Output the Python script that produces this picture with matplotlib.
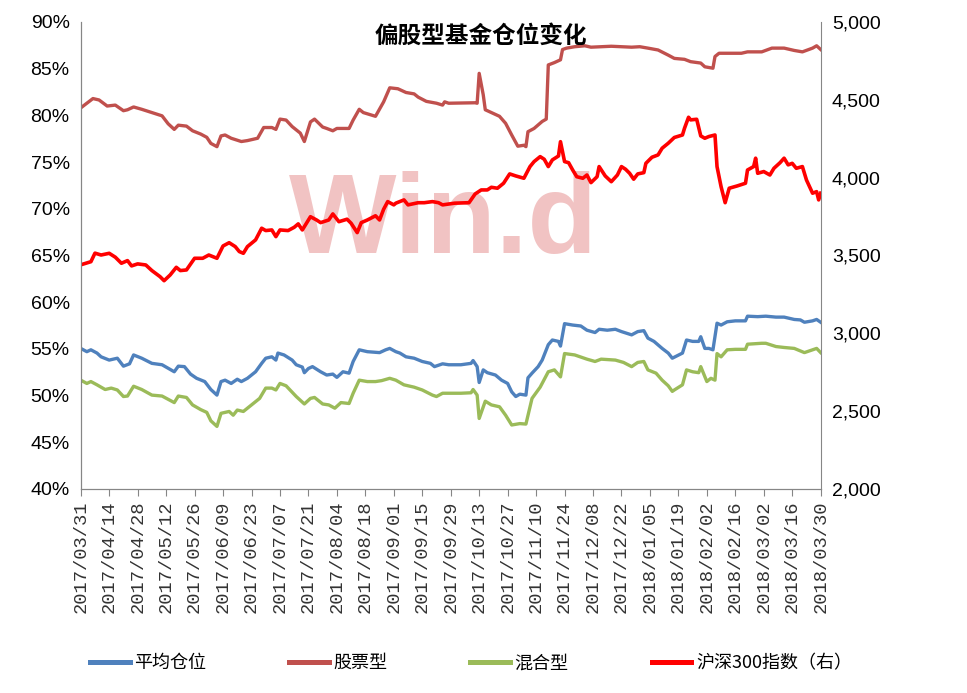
import matplotlib
matplotlib.use('Agg')
import matplotlib.pyplot as plt
import matplotlib.ticker as mticker
import pandas as pd

## x values are calendar days counted from the first date
start = pd.Timestamp('2017-03-31')
end = pd.Timestamp('2018-03-30')

## 股票型 (%)
stock_days = [0, 6, 9, 13, 17, 21, 23, 26, 30, 35, 40, 43, 46, 48, 52, 55, 59, 62, 64, 67,
              69, 71, 74, 79, 82, 87, 90, 94, 96, 98, 101, 104, 106, 108, 110, 113, 115, 119, 121, 124,
              126, 132, 134, 137, 139, 145, 149, 152, 156, 160, 164, 166, 170, 175, 178, 179, 181, 194, 195, 196,
              198, 199, 202, 206, 209, 212, 215, 218, 219, 220, 223, 227, 229, 230, 233, 236, 237, 239, 243, 248,
              251, 256, 261, 266, 271, 275, 279, 284, 289, 292, 297, 300, 305, 307, 311, 312, 314, 319, 325, 328,
              335, 340, 346, 351, 355, 360, 362, 364]
stock_pos = [80.8, 81.8, 81.65, 81.0, 81.1, 80.5, 80.6, 80.9, 80.65, 80.3, 79.95, 79.1, 78.5, 78.95, 78.85, 78.35, 78.0, 77.65, 77.0, 76.65,
             77.8, 77.9, 77.55, 77.2, 77.3, 77.55, 78.7, 78.7, 78.5, 79.6, 79.5, 78.8, 78.45, 78.1, 77.2, 79.3, 79.6, 78.75, 78.6, 78.35,
             78.6, 78.6, 79.5, 80.65, 80.3, 79.9, 81.45, 82.95, 82.85, 82.45, 82.3, 81.95, 81.5, 81.3, 81.1, 81.45, 81.3, 81.35, 81.3, 84.5,
             82.2, 80.6, 80.3, 79.9, 79.15, 77.9, 76.7, 76.8, 76.65, 78.25, 78.6, 79.35, 79.6, 85.4, 85.65, 85.95, 87.05, 87.2, 87.35, 87.45,
             87.3, 87.35, 87.4, 87.35, 87.3, 87.35, 87.2, 87.0, 86.45, 86.1, 86.0, 85.75, 85.6, 85.2, 85.05, 86.3, 86.65, 86.65, 86.65, 86.8,
             86.8, 87.2, 87.2, 86.95, 86.8, 87.2, 87.45, 87.05]

## 平均仓位 (%)
avg_days = [0, 3, 5, 8, 10, 14, 18, 21, 24, 26, 30, 35, 40, 46, 48, 51, 54, 57, 61, 64,
            67, 69, 71, 74, 77, 79, 82, 86, 89, 91, 94, 96, 97, 100, 104, 106, 109, 110, 112, 114,
            118, 121, 124, 126, 129, 132, 134, 137, 141, 147, 150, 152, 155, 157, 160, 164, 168, 172, 174, 178,
            181, 187, 192, 193, 195, 196, 198, 200, 204, 207, 210, 212, 214, 216, 219, 220, 222, 225, 227, 230,
            232, 235, 236, 238, 242, 246, 249, 253, 255, 259, 263, 266, 271, 274, 277, 279, 282, 286, 289, 291,
            296, 298, 301, 304, 305, 307, 309, 311, 313, 315, 318, 322, 327, 328, 333, 337, 342, 346, 351, 354,
            356, 360, 362, 364]
avg_pos = [55.05, 54.7, 54.9, 54.55, 54.15, 53.8, 54.0, 53.15, 53.4, 54.35, 54.0, 53.45, 53.3, 52.55, 53.15, 53.1, 52.3, 51.85, 51.5, 50.65,
           50.05, 51.5, 51.65, 51.3, 51.75, 51.5, 51.85, 52.55, 53.45, 54.0, 54.15, 53.8, 54.55, 54.35, 53.8, 53.3, 53.05, 52.45, 52.9, 53.1,
           52.55, 52.2, 52.3, 51.95, 52.55, 52.4, 53.65, 54.9, 54.7, 54.6, 54.9, 55.05, 54.7, 54.55, 54.15, 54.0, 53.65, 53.45, 53.1, 53.4,
           53.3, 53.3, 53.45, 53.75, 53.1, 51.4, 52.75, 52.45, 52.2, 51.65, 51.3, 50.4, 49.9, 50.15, 50.05, 51.9, 52.4, 53.1, 53.8, 55.45,
           55.95, 55.8, 55.3, 57.7, 57.55, 57.45, 57.0, 56.75, 57.1, 57.0, 57.1, 56.85, 56.5, 56.85, 56.95, 56.15, 55.8, 55.05, 54.55, 54.0,
           54.55, 55.95, 55.8, 55.8, 56.3, 55.05, 55.05, 54.9, 57.75, 57.55, 57.9, 58.0, 58.0, 58.5, 58.45, 58.5, 58.4, 58.4, 58.15, 58.1,
           57.85, 58.0, 58.15, 57.85]

## 混合型 (%)
mixed_days = [0, 3, 5, 8, 12, 15, 18, 21, 23, 26, 30, 35, 40, 46, 48, 52, 55, 59, 62, 64,
              67, 69, 73, 75, 77, 80, 84, 88, 91, 94, 96, 98, 101, 106, 110, 113, 115, 119, 122, 125,
              128, 132, 134, 137, 141, 145, 148, 152, 155, 159, 164, 168, 173, 175, 178, 187, 192, 193, 195, 196,
              199, 202, 206, 209, 212, 216, 219, 222, 226, 230, 233, 236, 238, 243, 249, 253, 256, 263, 267, 271,
              274, 277, 279, 283, 286, 289, 291, 292, 296, 298, 301, 304, 305, 308, 310, 312, 313, 315, 318, 322,
              327, 328, 335, 337, 342, 346, 351, 356, 360, 362, 364]
mixed_pos = [51.65, 51.3, 51.5, 51.15, 50.65, 50.8, 50.6, 49.9, 49.95, 51.0, 50.65, 50.05, 49.95, 49.25, 49.95, 49.8, 49.0, 48.5, 48.2, 47.3,
             46.7, 48.1, 48.3, 47.9, 48.45, 48.3, 49.0, 49.7, 50.8, 50.8, 50.6, 51.3, 51.05, 49.9, 49.1, 49.7, 49.8, 49.1, 49.0, 48.65,
             49.25, 49.15, 50.25, 51.65, 51.5, 51.5, 51.6, 51.85, 51.65, 51.15, 50.9, 50.6, 50.05, 49.9, 50.25, 50.25, 50.3, 50.65, 50.05, 47.55,
             49.4, 49.0, 48.8, 47.9, 46.85, 47.0, 46.95, 49.7, 50.9, 52.55, 52.75, 52.0, 54.5, 54.35, 53.9, 53.65, 53.9, 53.8, 53.55, 53.1,
             53.55, 53.65, 52.75, 52.4, 51.65, 51.05, 50.45, 50.6, 51.15, 52.75, 52.55, 52.45, 53.1, 51.5, 51.85, 51.65, 54.5, 54.15, 54.9, 54.95,
             54.95, 55.5, 55.6, 55.6, 55.25, 55.15, 55.05, 54.6, 54.9, 55.05, 54.6]

## 沪深300指数 (right axis)
hs300_days = [0, 5, 7, 10, 14, 17, 20, 23, 25, 28, 32, 35, 39, 41, 44, 47, 49, 52, 56, 60,
              63, 67, 70, 73, 76, 78, 80, 82, 86, 89, 91, 94, 96, 98, 102, 105, 107, 109, 113, 116,
              118, 122, 124, 127, 131, 133, 136, 138, 141, 145, 147, 149, 151, 154, 155, 159, 161, 166, 169, 173,
              176, 178, 184, 191, 194, 197, 200, 202, 205, 208, 211, 214, 218, 221, 223, 226, 228, 230, 232, 235,
              236, 238, 240, 242, 244, 247, 249, 251, 254, 255, 258, 261, 264, 266, 268, 270, 272, 274, 277, 278,
              281, 284, 286, 289, 292, 296, 297, 299, 300, 303, 305, 307, 309, 312, 313, 315, 317, 319, 323, 327,
              328, 331, 332, 333, 336, 339, 341, 344, 346, 348, 350, 352, 355, 357, 360, 362, 363, 364]
hs300 = [3440, 3460, 3515, 3503, 3514, 3489, 3450, 3467, 3433, 3446, 3439, 3403, 3364, 3338, 3375, 3424, 3403, 3407, 3482, 3482,
         3503, 3482, 3561, 3582, 3557, 3525, 3514, 3557, 3600, 3675, 3660, 3664, 3621, 3664, 3660, 3681, 3703, 3664, 3749, 3728,
         3711, 3728, 3767, 3717, 3733, 3707, 3647, 3711, 3728, 3755, 3728, 3797, 3846, 3825, 3836, 3857, 3825, 3839, 3839, 3846,
         3839, 3825, 3836, 3839, 3895, 3921, 3921, 3938, 3932, 3964, 4024, 4011, 3996, 4071, 4103, 4135, 4118, 4071, 4114, 4139,
         4231, 4103, 4096, 4049, 4006, 3996, 4017, 3968, 4006, 4071, 4011, 3974, 4017, 4071, 4054, 4028, 3990, 4024, 4032, 4092,
         4131, 4146, 4189, 4221, 4258, 4274, 4317, 4388, 4371, 4375, 4268, 4253, 4264, 4274, 4071, 3942, 3839, 3932, 3947, 3964,
         4049, 4071, 4125, 4028, 4039, 4017, 4060, 4096, 4125, 4082, 4092, 4060, 4071, 3985, 3900, 3910, 3857, 3900]

series_labels = ['平均仓位', '股票型', '混合型', '沪深300指数（右）']
title = '偏股型基金仓位变化'

cjk = ['Noto Sans CJK SC', 'DejaVu Sans']
num_font = ['Liberation Sans Narrow', 'Liberation Sans']
grey = '#868686'


def to_dates(days):
    return start + pd.to_timedelta(days, unit='D')


fig = plt.figure(figsize=(9.67, 6.93), dpi=100)
ax = fig.add_axes([0.0835, 0.2944, 0.7652, 0.6739])
ax.set_facecolor('none')
ax2 = ax.twinx()

## watermark behind the lines
ax.text(0.49, 0.567, 'Win.d', transform=ax.transAxes, ha='center', va='center',
        fontsize=82, fontweight='bold', family=['Liberation Sans'],
        color='#F0BDBD', alpha=0.9, zorder=0.5)

l1, = ax.plot(to_dates(avg_days), avg_pos, color='#4F81BD', lw=2.4, label=series_labels[0])
l2, = ax.plot(to_dates(stock_days), stock_pos, color='#C0504D', lw=2.4, label=series_labels[1])
l3, = ax.plot(to_dates(mixed_days), mixed_pos, color='#9BBB59', lw=2.4, label=series_labels[2])
l4, = ax2.plot(to_dates(hs300_days), hs300, color='#FF0000', lw=2.6, label=series_labels[3])

## axes limits and ticks
ax.set_xlim(start, end)
ax.set_ylim(40, 90)
ax.set_yticks(range(40, 91, 5))
ax.yaxis.set_major_formatter(mticker.FuncFormatter(lambda v, p: f'{v:.0f}%'))
ax2.set_ylim(2000, 5000)
ax2.set_yticks(range(2000, 5001, 500))
ax2.yaxis.set_major_formatter(mticker.FuncFormatter(lambda v, p: f'{v:,.0f}'))

xticks = pd.date_range(start, end, freq='14D')
ax.set_xticks(xticks)
ax.set_xticklabels([d.strftime('%Y/%m/%d') for d in xticks], rotation=90,
                   family=['Liberation Mono'], fontsize=13.5, color='#333333')

for a in (ax, ax2):
    a.spines['top'].set_visible(False)
    for s in ('left', 'right', 'bottom'):
        a.spines[s].set_color(grey)
ax.spines['right'].set_visible(False)
ax.tick_params(axis='x', direction='out', length=5, color=grey, pad=3)
ax.tick_params(axis='y', length=0, pad=8)
ax2.tick_params(axis='y', length=0, pad=8)
for lab in ax.get_yticklabels() + ax2.get_yticklabels():
    lab.set_family(num_font)
    lab.set_fontsize(14)

## title inside the plot area
fig.text(0.497, 0.949, title, ha='center', va='center', fontsize=17,
         fontweight='bold', family=cjk)

## legend below the axis labels
leg = fig.legend(handles=[l1, l2, l3, l4], loc='center', bbox_to_anchor=(0.487, 0.043),
                 ncol=4, frameon=False, prop={'family': cjk, 'size': 13},
                 handlelength=2.2, handletextpad=0.25, columnspacing=4.6)
for line in leg.get_lines():
    line.set_linewidth(3.6)

fig.savefig('out.png', dpi=100)
